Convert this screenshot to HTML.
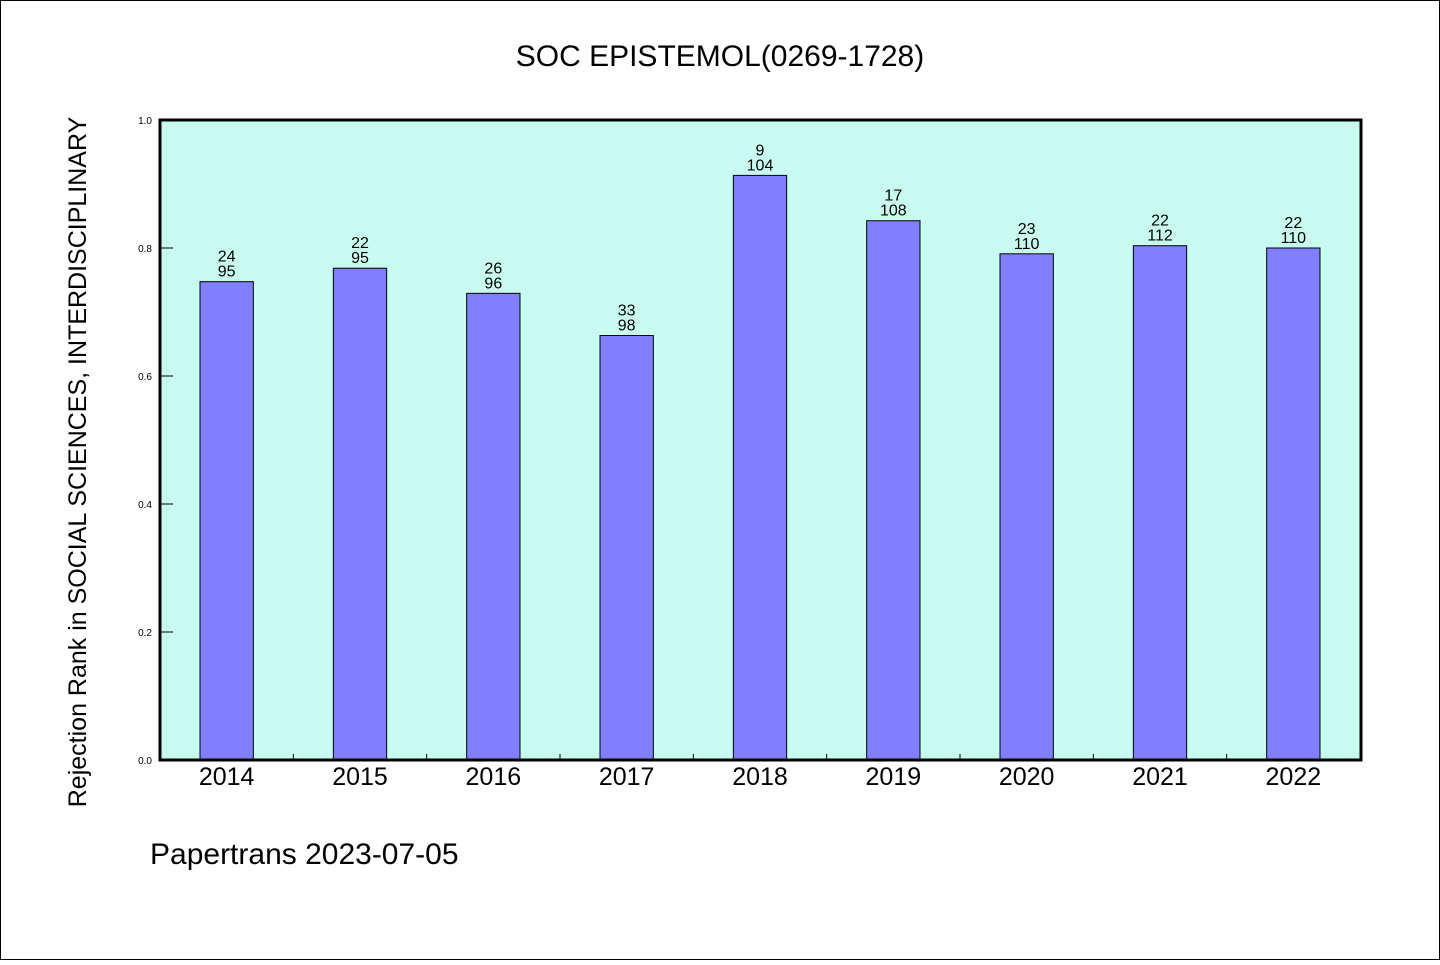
<!DOCTYPE html>
<html><head><meta charset="utf-8"><style>
html,body{margin:0;padding:0;background:#fff}
svg text{font-family:"WenQuanYi Zen Hei","Liberation Sans",sans-serif}
</style></head><body>
<svg id="chart" width="1440" height="960" xmlns="http://www.w3.org/2000/svg">
<rect x="0.5" y="0.5" width="1439" height="959" fill="#fff" stroke="#000" stroke-width="1"/>
<text x="720" y="66" font-size="30" text-anchor="middle">SOC EPISTEMOL(0269-1728)</text>
<rect x="160" y="120" width="1201" height="640" fill="#c8fcf0"/>
<g id="bars"></g>
<g id="axes"></g>
<rect x="160" y="120" width="1201" height="640" fill="none" stroke="#000" stroke-width="3"/>
<text transform="translate(86,462) rotate(-90)" font-size="25" text-anchor="middle">Rejection Rank in SOCIAL SCIENCES, INTERDISCIPLINARY</text>
<text x="150" y="864" font-size="30">Papertrans 2023-07-05</text>
</svg>
<script>
const categories=["2014","2015","2016","2017","2018","2019","2020","2021","2022"];
const ranks=[24,22,26,33,9,17,23,22,22];
const totals=[95,95,96,98,104,108,110,112,110];
const yTicks=[0,0.2,0.4,0.6,0.8,1.0];
const NS="http://www.w3.org/2000/svg";
const x0=160,x1=1360,yTop=120,yBot=760;
const band=(x1-x0)/categories.length;
const xc=i=>x0+band*(i+0.5);
const y=v=>yBot-v*(yBot-yTop);
function mk(t,a,p){const e=document.createElementNS(NS,t);for(const k in a)e.setAttribute(k,a[k]);p.appendChild(e);return e;}
const bars=document.getElementById('bars'),axes=document.getElementById('axes');
categories.forEach((c,i)=>{
  const v=1-ranks[i]/totals[i];
  const w=band*0.4;
  const r=mk('rect',{x:xc(i)-w/2,y:y(v),width:w,height:yBot-y(v),fill:'#8080ff',stroke:'#000','stroke-width':1},bars);
  
  
  const t1=mk('text',{x:xc(i),y:y(v)-20,'font-size':16,'text-anchor':'middle'},bars);t1.textContent=ranks[i];
  
  
  const t2=mk('text',{x:xc(i),y:y(v)-5,'font-size':16,'text-anchor':'middle'},bars);t2.textContent=totals[i];
  
  
  const xl=mk('text',{x:xc(i),y:785,'font-size':25,'text-anchor':'middle'},axes);xl.textContent=c;
  
  
  if(i>0){const tk=mk('line',{x1:x0+band*i,x2:x0+band*i,y1:yBot,y2:yBot-6,stroke:'#000','stroke-width':1},axes);
  
  }
});
yTicks.forEach(v=>{
  const tk=mk('line',{x1:x0,x2:x0+13,y1:y(v),y2:y(v),stroke:'#000','stroke-width':1},axes);
  
  
  const t=mk('text',{x:152,y:y(v)+4,'font-size':10,'text-anchor':'end'},axes);t.textContent=v.toFixed(1);
  
  
});
</script>
</body></html>
